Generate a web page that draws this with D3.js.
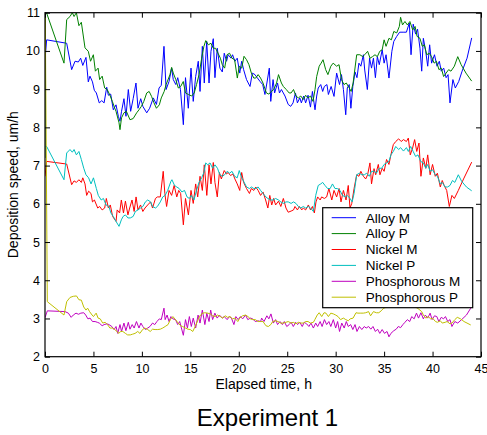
<!DOCTYPE html>
<html>
<head>
<meta charset="utf-8">
<script src="https://cdn.jsdelivr.net/npm/d3@7"></script>
<style>
  html, body { margin: 0; padding: 0; background: #fff; }
  svg { display: block; }
  text { font-family: "Liberation Sans", Arial, Helvetica, sans-serif; fill: #000; }
</style>
</head>
<body>
<svg id="chart" width="487" height="435"></svg>
<script>
// ---------- data (elapsed time h, deposition speed um/h) ----------
const xTicks = [0, 5, 10, 15, 20, 25, 30, 35, 40, 45];
const yTicks = [2, 3, 4, 5, 6, 7, 8, 9, 10, 11];
const seriesNames = ["Alloy M", "Alloy P", "Nickel M", "Nickel P", "Phosphorous M", "Phosphorous P"];
const seriesColors = ["#0000ff", "#008000", "#ff0000", "#00bfbf", "#bf00bf", "#bfbf00"];

const alloyM = [[0,9.76],[0.17,10.29],[2.24,10.2],[2.75,9.51],[3.1,9.73],[3.44,9.71],[3.68,9.81],[3.9,9.62],[4.23,9.83],[4.47,9.19],[4.64,9.34],[4.9,9.19],[5.09,8.97],[5.3,8.9],[5.6,8.64],[5.86,8.7],[6.1,8.64],[6.37,9.05],[6.54,8.84],[6.78,8.87],[7.05,8.46],[7.33,8.59],[7.57,8.29],[7.74,8.16],[7.9,8.42],[8.15,8.75],[8.36,8.29],[8.6,8.99],[8.84,8.42],[9.1,8.75],[9.39,9.16],[9.6,8.5],[9.88,8.75],[10.1,8.55],[10.5,8.38],[10.8,8.5],[11.18,8.77],[11.5,8.6],[11.77,9.03],[12.0,9.1],[12.28,10.12],[12.5,8.99],[12.8,9.2],[13.07,9.55],[13.24,9.25],[13.5,9.12],[13.7,9.3],[13.98,8.99],[14.28,8.07],[14.5,9.3],[14.79,8.5],[15.07,9.55],[15.3,8.68],[15.55,9.33],[15.82,9.73],[16.0,8.94],[16.24,10.12],[16.44,9.16],[16.69,10.25],[16.93,9.16],[17.13,9.99],[17.37,10.32],[17.54,9.3],[17.78,10.07],[18.05,9.55],[18.3,9.45],[18.5,9.94],[18.74,9.73],[18.9,9.9],[19.2,9.81],[19.36,9.9],[19.6,9.73],[19.84,9.81],[20.1,9.42],[20.3,9.73],[20.5,9.51],[20.8,9.25],[21.16,9.07],[21.4,9.42],[21.67,9.38],[21.9,9.3],[22.2,9.2],[22.47,9.12],[22.7,8.86],[22.9,9.16],[23.15,9.55],[23.3,8.68],[23.54,9.25],[23.7,8.9],[24.0,9.16],[24.2,8.9],[24.4,8.99],[24.77,8.82],[25.1,8.6],[25.36,8.55],[25.6,8.64],[25.85,8.9],[26.05,8.64],[26.3,8.77],[26.46,8.64],[26.7,8.82],[26.9,8.64],[27.15,8.84],[27.4,8.53],[27.6,8.94],[27.87,8.46],[28.04,8.82],[28.2,9.03],[28.46,9.12],[28.66,8.94],[28.83,9.07],[29.1,9.12],[29.25,8.86],[29.53,9.07],[29.83,8.81],[30.1,9.42],[30.4,9.12],[30.6,9.38],[30.8,8.99],[31.04,8.33],[31.2,9.03],[31.4,9.12],[31.57,8.5],[31.77,9.07],[32.0,9.45],[32.2,9.3],[32.4,9.68],[32.6,9.6],[32.86,9.9],[33.0,9.5],[33.27,8.99],[33.5,9.81],[33.7,9.55],[33.9,9.81],[34.1,9.3],[34.3,9.85],[34.5,9.64],[34.8,10.03],[35.0,9.68],[35.2,9.9],[35.5,9.29],[35.8,9.99],[36.0,10.25],[36.3,10.38],[36.6,10.49],[36.96,10.49],[37.3,10.49],[37.6,10.73],[37.78,9.9],[38.0,10.7],[38.25,10.44],[38.45,10.57],[38.7,10.07],[38.88,9.47],[39.05,10.33],[39.3,9.98],[39.5,9.6],[39.7,10.16],[39.9,9.68],[40.2,9.9],[40.46,9.6],[40.7,9.73],[40.9,9.47],[41.15,9.55],[41.4,9.3],[41.6,9.38],[41.8,8.64],[42.1,9.25],[42.35,9.03],[42.7,9.2],[43.05,9.47],[43.56,9.81],[44.04,10.34]];

const alloyP = [[0,7.2],[0.05,11.0],[0.17,10.99],[1.96,9.68],[2.24,10.82],[2.58,10.9],[2.82,11.0],[3.0,10.9],[3.24,11.0],[3.5,10.66],[3.75,10.75],[4.13,10.08],[4.47,9.99],[4.7,9.73],[4.99,9.9],[5.2,9.47],[5.48,9.55],[5.64,9.25],[5.9,9.34],[6.16,9.03],[6.42,8.99],[6.67,8.86],[6.95,8.68],[7.2,8.5],[7.33,8.42],[7.64,8.12],[7.74,7.94],[7.9,8.25],[8.15,8.38],[8.4,8.42],[8.77,8.2],[9.1,8.23],[9.46,8.38],[9.7,8.46],[9.95,8.55],[10.2,8.68],[10.5,8.9],[10.75,8.94],[11.0,8.81],[11.25,8.64],[11.5,8.5],[11.8,8.59],[12.0,8.77],[12.3,8.94],[12.5,9.12],[12.9,9.38],[13.07,9.57],[13.24,9.42],[13.5,9.25],[13.76,9.03],[14.0,9.07],[14.27,9.2],[14.5,8.9],[14.8,8.86],[15.14,8.82],[15.4,8.9],[15.64,9.12],[15.9,9.38],[16.17,9.81],[16.4,10.12],[16.59,10.27],[16.86,10.16],[17.13,10.2],[17.37,10.07],[17.6,10.07],[17.86,9.94],[18.1,9.81],[18.3,9.64],[18.54,9.55],[18.78,9.9],[19.05,9.94],[19.3,9.81],[19.57,9.77],[19.85,9.29],[20.05,9.6],[20.3,9.55],[20.54,9.86],[20.8,9.77],[21.05,9.64],[21.3,9.42],[21.55,9.29],[21.75,9.29],[22.0,9.38],[22.25,9.29],[22.5,9.16],[22.85,8.9],[23.1,8.87],[23.35,8.94],[23.6,8.99],[23.9,9.16],[24.1,9.38],[24.4,9.16],[24.6,9.07],[24.9,8.99],[25.2,8.9],[25.4,8.9],[25.65,8.99],[25.9,8.82],[26.15,8.77],[26.4,8.82],[26.66,8.73],[26.9,8.84],[27.15,8.77],[27.4,8.82],[27.66,8.68],[27.87,8.99],[28.04,9.33],[28.3,9.6],[28.5,9.68],[28.7,9.77],[28.97,9.51],[29.2,9.38],[29.5,9.6],[29.74,9.68],[30.1,9.6],[30.35,9.64],[30.6,9.25],[30.86,9.12],[31.1,9.16],[31.4,9.03],[31.6,8.94],[31.8,9.16],[32.17,9.9],[32.5,9.9],[32.8,9.85],[33.0,9.9],[33.3,9.99],[33.55,9.81],[33.8,9.85],[34.06,9.9],[34.3,9.85],[34.55,9.99],[34.8,10.03],[35.0,10.29],[35.2,10.12],[35.5,10.33],[35.75,10.29],[36.0,10.51],[36.3,10.47],[36.57,10.64],[36.7,10.88],[36.9,10.68],[37.15,10.77],[37.4,10.68],[37.66,10.77],[37.95,10.55],[38.2,10.64],[38.4,10.38],[38.7,10.33],[38.94,10.12],[39.15,10.16],[39.4,9.9],[39.66,9.94],[39.9,9.85],[40.16,9.68],[40.4,9.73],[40.66,9.51],[40.9,9.55],[41.14,9.33],[41.4,9.42],[41.66,9.51],[41.9,9.47],[42.25,9.6],[42.6,9.85],[42.95,9.64],[43.45,9.42],[44.04,9.21]];

const nickelM = [[0,6.72],[0.17,7.11],[2.24,7.04],[2.75,6.5],[3.0,6.6],[3.24,6.56],[3.5,6.63],[3.75,6.56],[3.9,6.68],[4.13,6.52],[4.3,6.22],[4.5,6.33],[4.75,6.27],[4.9,6.05],[5.1,6.1],[5.44,5.89],[5.64,5.93],[5.9,5.84],[6.16,5.89],[6.33,6.14],[6.54,5.89],[6.74,5.97],[6.98,5.67],[7.33,5.54],[7.45,5.84],[7.7,5.76],[7.88,6.1],[8.1,5.76],[8.3,6.07],[8.56,5.71],[8.74,5.89],[8.98,6.1],[9.2,5.8],[9.4,6.18],[9.6,5.84],[9.86,5.97],[10.1,5.8],[10.32,5.89],[10.6,5.97],[10.9,6.05],[11.1,5.89],[11.4,6.14],[11.6,6.18],[11.9,6.18],[12.2,6.85],[12.37,6.27],[12.55,5.93],[12.8,6.35],[13.07,6.22],[13.33,6.48],[13.6,6.18],[13.8,6.35],[14.0,6.27],[14.28,5.45],[14.5,6.14],[14.8,5.71],[15.07,6.35],[15.3,6.01],[15.55,6.52],[15.76,6.18],[16.0,6.72],[16.24,6.35],[16.44,7.02],[16.7,6.22],[16.93,7.02],[17.13,6.52],[17.37,7.08],[17.54,6.56],[17.78,6.18],[18.0,6.82],[18.2,6.65],[18.5,6.87],[18.74,6.78],[18.9,6.82],[19.15,6.74],[19.4,6.78],[19.6,6.65],[19.84,6.52],[20.1,6.35],[20.3,6.82],[20.5,6.56],[20.8,6.4],[21.1,6.27],[21.3,6.4],[21.55,6.35],[21.75,6.44],[22.0,6.35],[22.25,6.22],[22.5,6.31],[22.77,6.1],[23.0,5.89],[23.2,6.22],[23.4,5.97],[23.6,6.14],[23.8,5.97],[24.1,6.07],[24.34,5.93],[24.6,6.14],[24.87,5.89],[25.1,5.78],[25.4,5.81],[25.65,5.84],[25.8,5.93],[26.05,5.84],[26.26,5.93],[26.5,5.84],[26.66,5.89],[26.9,5.84],[27.18,5.97],[27.4,5.84],[27.6,5.93],[27.8,5.76],[27.97,6.05],[28.14,6.18],[28.4,6.1],[28.55,6.18],[28.83,6.14],[29.07,6.18],[29.3,6.4],[29.6,6.1],[29.83,6.35],[30.1,6.18],[30.35,6.4],[30.55,6.05],[30.8,6.35],[31.07,6.1],[31.3,6.48],[31.48,5.89],[31.66,6.01],[31.9,6.4],[32.17,6.76],[32.4,6.72],[32.6,6.85],[32.86,6.72],[33.1,6.65],[33.3,6.76],[33.54,7.07],[33.7,6.52],[33.96,6.92],[34.13,6.76],[34.4,7.03],[34.57,6.76],[34.8,6.93],[35.0,6.85],[35.25,7.16],[35.5,7.03],[35.7,7.28],[35.95,7.55],[36.2,7.63],[36.5,7.7],[36.76,7.63],[37.0,7.68],[37.3,7.63],[37.5,7.72],[37.7,7.28],[37.94,7.46],[38.15,7.68],[38.37,7.37],[38.6,7.59],[38.8,6.72],[39.05,7.2],[39.3,6.93],[39.5,7.28],[39.75,6.76],[40.0,7.03],[40.28,6.72],[40.5,6.8],[40.8,6.44],[41.0,6.61],[41.2,6.48],[41.46,6.35],[41.73,5.93],[42.0,6.22],[42.25,6.14],[42.66,6.35],[43.2,6.65],[44.04,7.09]];

const nickelP = [[0,7.5],[0.17,7.5],[1.96,6.63],[2.24,7.33],[2.58,7.42],[2.82,7.35],[3.0,7.42],[3.24,7.28],[3.5,7.37],[3.75,7.16],[4.0,6.93],[4.23,6.76],[4.5,6.68],[4.75,6.52],[5.0,6.68],[5.3,6.4],[5.5,6.22],[5.8,6.1],[6.03,6.14],[6.3,5.97],[6.6,5.93],[6.8,5.76],[7.05,5.67],[7.33,5.54],[7.64,5.41],[7.88,5.58],[8.06,5.67],[8.3,5.71],[8.56,5.63],[8.8,5.63],[9.1,5.67],[9.33,5.8],[9.6,5.84],[9.86,5.89],[10.1,5.93],[10.36,6.05],[10.6,6.1],[10.9,6.05],[11.1,5.93],[11.4,5.89],[11.6,5.93],[11.9,6.05],[12.15,6.18],[12.4,6.22],[12.66,6.35],[13.0,6.59],[13.1,6.63],[13.37,6.48],[13.6,6.44],[13.85,6.4],[14.13,6.31],[14.4,6.35],[14.66,6.18],[14.9,6.14],[15.1,6.22],[15.37,6.1],[15.64,6.35],[15.9,6.56],[16.17,6.68],[16.4,6.82],[16.59,7.07],[16.8,7.02],[17.03,7.07],[17.3,6.93],[17.54,7.02],[17.8,6.93],[18.05,6.76],[18.3,6.72],[18.54,6.76],[18.8,6.85],[19.05,6.8],[19.3,6.85],[19.57,6.72],[19.84,6.68],[20.05,6.87],[20.3,6.68],[20.5,6.59],[20.8,6.44],[21.1,6.4],[21.3,6.44],[21.55,6.4],[21.75,6.4],[22.0,6.44],[22.25,6.35],[22.5,6.27],[22.8,6.18],[23.0,6.14],[23.3,6.1],[23.55,6.1],[23.8,6.14],[24.1,6.1],[24.34,6.05],[24.6,6.01],[24.87,6.05],[25.1,6.05],[25.4,6.01],[25.65,6.05],[25.9,6.01],[26.15,5.93],[26.4,5.89],[26.66,5.93],[26.9,5.89],[27.18,5.93],[27.4,5.89],[27.7,5.8],[27.94,6.22],[28.2,6.48],[28.46,6.52],[28.66,6.56],[28.9,6.48],[29.17,6.4],[29.43,6.4],[29.67,6.52],[29.93,6.4],[30.17,6.4],[30.45,6.35],[30.7,6.22],[31.0,6.18],[31.2,6.22],[31.48,6.14],[31.7,6.05],[31.9,6.27],[32.17,6.76],[32.45,6.8],[32.7,6.76],[32.96,6.76],[33.2,6.8],[33.47,6.72],[33.7,6.85],[34.0,6.85],[34.2,6.8],[34.5,6.93],[34.75,6.93],[35.0,7.03],[35.25,7.07],[35.5,7.11],[35.7,7.28],[35.95,7.37],[36.2,7.5],[36.5,7.42],[36.7,7.47],[37.0,7.38],[37.3,7.47],[37.5,7.37],[37.74,7.5],[38.0,7.37],[38.25,7.24],[38.5,7.28],[38.77,7.11],[39.05,7.07],[39.3,6.93],[39.5,7.03],[39.75,6.85],[40.0,6.89],[40.28,6.76],[40.5,6.72],[40.8,6.52],[41.0,6.56],[41.3,6.44],[41.55,6.44],[41.8,6.48],[42.06,6.61],[42.3,6.56],[42.66,6.76],[43.0,6.59],[43.5,6.44],[44.04,6.34]];

const phosphorousM = [[0,3.02],[0.24,3.2],[2.06,3.18],[2.41,3.14],[2.7,3.03],[2.92,3.09],[3.2,3.14],[3.45,3.11],[3.7,3.14],[4.0,3.15],[4.2,3.09],[4.43,2.99],[4.65,3.01],[4.9,2.92],[5.17,2.92],[5.4,2.9],[5.6,2.88],[5.9,2.81],[6.1,2.84],[6.4,2.86],[6.6,2.84],[6.9,2.79],[7.13,2.71],[7.33,2.79],[7.5,2.61],[7.74,2.84],[7.9,2.66],[8.15,2.88],[8.35,2.68],[8.6,2.9],[8.77,2.72],[9.0,2.84],[9.2,2.75],[9.44,2.92],[9.7,2.75],[9.9,2.88],[10.1,2.79],[10.36,2.71],[10.6,2.75],[10.83,2.79],[11.1,2.88],[11.33,2.84],[11.55,2.92],[11.8,2.99],[12.0,2.97],[12.28,3.27],[12.4,2.97],[12.6,3.09],[12.8,2.92],[13.0,3.05],[13.2,2.99],[13.47,2.97],[13.7,2.84],[13.9,2.92],[14.28,2.56],[14.5,2.97],[14.7,2.75],[14.9,3.05],[15.1,2.79],[15.3,3.01],[15.55,2.75],[15.8,3.09],[16.0,2.88],[16.24,3.22],[16.5,2.84],[16.7,3.14],[16.93,2.92],[17.1,3.22],[17.3,2.97],[17.53,3.14],[17.77,3.01],[18.0,3.09],[18.3,3.01],[18.5,3.05],[18.8,2.97],[19.03,3.05],[19.24,3.01],[19.5,2.84],[19.7,3.05],[19.93,2.97],[20.17,3.05],[20.4,2.99],[20.7,3.09],[20.93,2.97],[21.2,3.01],[21.44,2.99],[21.7,2.92],[22.0,2.94],[22.25,2.92],[22.36,3.01],[22.6,2.92],[22.9,3.07],[23.1,2.99],[23.32,3.12],[23.57,2.88],[23.8,2.97],[24.0,2.84],[24.25,2.92],[24.5,2.84],[24.7,2.92],[24.95,2.79],[25.2,2.84],[25.4,2.9],[25.63,2.79],[25.87,2.9],[26.07,2.84],[26.3,2.9],[26.55,2.79],[26.76,2.9],[27.0,2.86],[27.24,2.79],[27.45,2.88],[27.7,2.75],[27.94,2.88],[28.14,2.79],[28.4,2.92],[28.6,2.79],[28.84,2.97],[29.07,2.84],[29.3,2.92],[29.5,2.79],[29.76,2.97],[30.0,2.75],[30.2,2.92],[30.4,2.66],[30.63,2.88],[30.88,2.75],[31.1,2.92],[31.3,2.79],[31.55,2.84],[31.77,2.71],[32.0,2.84],[32.2,2.66],[32.45,2.79],[32.7,2.71],[32.95,2.79],[33.15,2.75],[33.4,2.79],[33.63,2.72],[33.85,2.79],[34.1,2.66],[34.33,2.72],[34.55,2.61],[34.8,2.71],[35.04,2.61],[35.3,2.66],[35.5,2.52],[35.7,2.61],[36.0,2.68],[36.25,2.72],[36.46,2.79],[36.7,2.76],[36.94,2.84],[37.15,2.9],[37.4,2.97],[37.64,2.92],[37.85,3.05],[38.1,2.99],[38.34,3.14],[38.55,3.01],[38.8,3.15],[39.05,2.99],[39.25,3.09],[39.5,3.01],[39.75,3.14],[39.95,2.97],[40.2,3.07],[40.44,3.05],[40.65,2.92],[40.9,3.03],[41.13,2.99],[41.33,3.05],[41.57,2.92],[41.8,2.97],[42.0,2.79],[42.3,2.92],[42.6,2.88],[43.0,2.97],[43.5,3.09],[43.94,3.27]];

const phosphorousP = [[0,12],[0.24,3.44],[1.96,3.09],[2.24,3.44],[2.58,3.55],[2.92,3.58],[3.25,3.59],[3.5,3.49],[3.75,3.48],[4.0,3.3],[4.23,3.22],[4.4,3.27],[4.6,3.18],[4.86,3.09],[5.0,3.05],[5.28,3.14],[5.48,3.01],[5.7,2.99],[5.96,2.88],[6.2,2.9],[6.45,2.84],[6.7,2.75],[6.96,2.75],[7.2,2.71],[7.64,2.61],[7.79,2.66],[8.03,2.66],[8.3,2.61],[8.53,2.57],[8.8,2.57],[9.05,2.59],[9.3,2.61],[9.57,2.66],[9.8,2.61],[10.07,2.71],[10.3,2.75],[10.6,2.71],[10.86,2.66],[11.1,2.72],[11.36,2.71],[11.64,2.71],[11.9,2.72],[12.15,2.75],[12.4,2.79],[12.7,2.84],[12.94,2.97],[13.2,3.05],[13.47,2.97],[13.75,2.88],[14.0,2.81],[14.2,2.79],[14.5,2.75],[14.75,2.72],[15.0,2.71],[15.25,2.66],[15.5,2.79],[15.8,2.97],[16.04,3.09],[16.3,3.14],[16.5,3.15],[16.8,3.14],[17.05,3.12],[17.3,3.07],[17.55,3.05],[17.8,3.09],[18.1,3.05],[18.34,3.01],[18.6,3.07],[18.84,3.03],[19.1,3.05],[19.36,2.99],[19.6,3.01],[19.9,2.92],[20.1,3.01],[20.4,3.07],[20.7,3.09],[20.95,3.05],[21.2,2.99],[21.44,2.97],[21.7,2.97],[22.0,2.92],[22.25,2.92],[22.5,2.92],[22.8,2.81],[23.05,2.79],[23.3,2.84],[23.5,2.92],[23.8,2.94],[24.05,2.92],[24.3,2.88],[24.6,2.88],[24.86,2.9],[25.1,2.92],[25.4,2.88],[25.62,2.9],[25.9,2.86],[26.15,2.9],[26.4,2.88],[26.66,2.88],[26.9,2.92],[27.15,2.92],[27.4,2.88],[27.7,2.9],[27.85,2.97],[28.1,3.09],[28.3,3.15],[28.56,3.05],[28.8,3.15],[29.0,3.14],[29.25,3.05],[29.5,3.14],[29.76,3.12],[30.0,3.09],[30.25,3.05],[30.5,2.97],[30.8,3.01],[31.05,2.97],[31.3,2.94],[31.5,2.99],[31.8,3.01],[32.1,3.15],[32.3,3.14],[32.6,3.14],[32.85,3.14],[33.1,3.15],[33.4,3.18],[33.6,3.07],[33.9,3.18],[34.2,3.15],[34.45,3.15],[34.7,3.2],[34.96,3.27],[35.2,3.29],[35.6,3.33],[36.0,3.36],[36.5,3.35],[37.0,3.38],[37.5,3.36],[38.0,3.33],[38.5,3.26],[38.88,3.18],[39.05,3.09],[39.3,3.01],[39.55,3.05],[39.8,2.99],[40.0,3.01],[40.3,2.92],[40.5,2.9],[40.8,2.94],[41.0,2.88],[41.3,2.9],[41.5,2.92],[41.8,2.86],[42.0,2.88],[42.3,2.97],[42.55,3.03],[42.9,2.99],[43.25,2.92],[43.94,2.83]];

const seriesData = [alloyM, alloyP, nickelM, nickelP, phosphorousM, phosphorousP];

// ---------- layout ----------
const plot = { left: 45, right: 481, top: 12.7, bottom: 356.7 };
const svg = d3.select("#chart");

const x = d3.scaleLinear().domain([0, 45]).range([plot.left, plot.right]);
const y = d3.scaleLinear().domain([2, 11]).range([plot.bottom, plot.top]);

svg.append("rect").attr("x", 0).attr("y", 0).attr("width", 487).attr("height", 435).attr("fill", "#fff");

svg.append("clipPath").attr("id", "plotClip")
  .append("rect")
  .attr("x", plot.left).attr("y", plot.top)
  .attr("width", plot.right - plot.left).attr("height", plot.bottom - plot.top);

// ---------- series ----------
const line = d3.line().x(d => x(d[0])).y(d => y(d[1]));
const gLines = svg.append("g").attr("clip-path", "url(#plotClip)");
seriesData.forEach((data, i) => {
  gLines.append("path")
    .datum(data)
    .attr("d", line)
    .attr("fill", "none")
    .attr("stroke", seriesColors[i])
    .attr("stroke-width", 1)
    .attr("stroke-linejoin", "miter");
});

// ---------- axes (ticks inside, MATLAB style) ----------
const tickLen = 5;
const fs = 12.5;

const gx = svg.append("g").attr("transform", `translate(0,${plot.bottom})`)
  .call(d3.axisBottom(x).tickValues(xTicks).tickFormat(d3.format("d")).tickSize(-tickLen).tickPadding(7));
const gy = svg.append("g").attr("transform", `translate(${plot.left},0)`)
  .call(d3.axisLeft(y).tickValues(yTicks).tickFormat(d3.format("d")).tickSize(-tickLen).tickPadding(5));
const gxt = svg.append("g").attr("transform", `translate(0,${plot.top})`)
  .call(d3.axisTop(x).tickValues(xTicks).tickFormat("").tickSize(-tickLen));
const gyr = svg.append("g").attr("transform", `translate(${plot.right},0)`)
  .call(d3.axisRight(y).tickValues(yTicks).tickFormat("").tickSize(-tickLen));

[gx, gy, gxt, gyr].forEach(g => {
  g.select(".domain").remove();
  g.selectAll(".tick line").attr("stroke", "#000").attr("stroke-width", 1);
  g.selectAll(".tick text")
    .attr("font-family", "'Liberation Sans', Arial, sans-serif")
    .attr("font-size", fs).attr("fill", "#000");
});

svg.append("rect")
  .attr("x", plot.left).attr("y", plot.top)
  .attr("width", plot.right - plot.left).attr("height", plot.bottom - plot.top)
  .attr("fill", "none").attr("stroke", "#000").attr("stroke-width", 1.2);

// ---------- labels ----------
svg.append("text")
  .attr("x", 263.7).attr("y", 388.7)
  .attr("text-anchor", "middle")
  .attr("font-size", 14)
  .text("Elapsed time, h");

svg.append("text")
  .attr("transform", `translate(18,${(plot.top + plot.bottom) / 2}) rotate(-90)`)
  .attr("text-anchor", "middle")
  .attr("font-size", 14)
  .text("Deposition speed, um/h");

svg.append("text")
  .attr("x", 267.5).attr("y", 426)
  .attr("text-anchor", "middle")
  .attr("font-size", 24)
  .text("Experiment 1");

// ---------- legend ----------
const legend = { x: 322.7, y: 207.7, w: 150, h: 100, rowTop: 217.7, rowStep: 15.9 };
const gLeg = svg.append("g");
gLeg.append("rect")
  .attr("x", legend.x).attr("y", legend.y)
  .attr("width", legend.w).attr("height", legend.h)
  .attr("fill", "#fff").attr("stroke", "#000").attr("stroke-width", 1.2);

seriesNames.forEach((name, i) => {
  const cy = legend.rowTop + i * legend.rowStep;
  gLeg.append("line")
    .attr("x1", 331.7).attr("x2", 356)
    .attr("y1", cy).attr("y2", cy)
    .attr("stroke", seriesColors[i]).attr("stroke-width", 1);
  gLeg.append("text")
    .attr("x", 365.7).attr("y", cy + 4.8)
    .attr("font-size", 13.5)
    .text(name);
});
</script>
</body>
</html>
